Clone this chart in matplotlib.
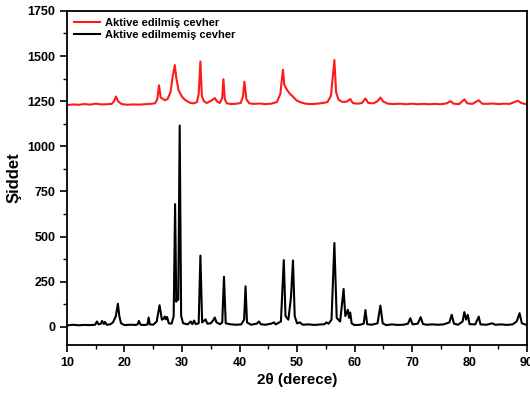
import matplotlib.pyplot as plt
from matplotlib.ticker import MultipleLocator

# ------------------------------------
# Data
# ------------------------------------
series_labels = ["Aktive edilmiş cevher", "Aktive edilmemiş cevher"]

# Activated ore (red, offset upward)
active_2theta = [
    10.0, 11.0, 12.0, 13.0, 14.0, 15.0, 16.0, 17.0, 17.8, 18.2, 18.5, 18.9,
    19.5, 20.5, 21.5, 22.5, 23.5, 24.5, 25.3, 25.7, 26.0, 26.3, 26.7, 27.0,
    27.5, 28.0, 28.4, 28.75, 29.0, 29.4, 30.0, 30.5, 31.0, 31.5, 32.0, 32.6,
    32.9, 33.2, 33.45, 33.8, 34.3, 34.8, 35.2, 35.7, 36.1, 36.6, 37.0, 37.2,
    37.45, 37.8, 38.5, 39.5, 40.2, 40.6, 40.85, 41.2, 41.7, 42.5, 43.5, 44.5,
    45.5, 46.5, 47.1, 47.55, 47.8, 48.3, 48.8, 49.3, 49.9, 50.5, 51.5, 52.5,
    53.5, 54.5, 55.3, 55.9, 56.5, 56.8, 57.2, 57.7, 58.2, 58.8, 59.25, 59.7,
    60.5, 61.3, 61.9, 62.4, 63.3, 64.0, 64.5, 65.0, 65.8, 66.8, 68.0, 69.0,
    70.0, 71.0, 72.0, 73.0, 74.0, 75.0, 76.0, 76.7, 77.2, 78.2, 79.1, 79.6,
    80.5, 81.6, 82.2, 83.0, 84.0, 85.0, 86.0, 87.0, 88.4, 89.0, 90.0,
]
active_int = [
    1228, 1232, 1230, 1234, 1231, 1236, 1232, 1233, 1235, 1250, 1276, 1248,
    1234, 1230, 1232, 1231, 1233, 1235, 1238, 1260, 1338, 1270, 1262, 1255,
    1262, 1300, 1390, 1450, 1380, 1310, 1275, 1258, 1248, 1240, 1238, 1245,
    1290, 1470, 1280, 1250, 1240, 1248, 1255, 1267, 1248, 1240, 1270, 1372,
    1260, 1238, 1234, 1236, 1240, 1275, 1358, 1260, 1238, 1235, 1237, 1234,
    1236, 1245, 1290, 1424, 1340, 1310, 1290, 1275, 1255, 1245, 1236, 1234,
    1236, 1240, 1245, 1280, 1478, 1300, 1260, 1248, 1245, 1250, 1262, 1240,
    1236, 1240, 1265, 1240, 1238, 1250, 1270, 1248, 1236, 1234, 1236, 1233,
    1236, 1233, 1235, 1233, 1235, 1233, 1238, 1250, 1236, 1234, 1260, 1238,
    1235, 1255, 1236, 1235, 1237, 1234, 1236, 1235, 1252, 1240, 1232,
]

# Non-activated ore (black)
raw_2theta = [
    10.0, 11.0, 12.0, 13.0, 14.0, 14.9, 15.2, 15.5, 15.9, 16.1, 16.4, 16.6,
    16.9, 17.5, 18.0, 18.5, 18.85, 19.1, 19.4, 20.0, 21.0, 22.0, 22.3, 22.5,
    22.8, 23.5, 24.0, 24.2, 24.4, 25.0, 25.6, 26.1, 26.5, 26.8, 27.0, 27.2,
    27.4, 27.7, 28.2, 28.55, 28.8, 29.0, 29.15, 29.35, 29.6, 29.85, 30.2, 31.0,
    31.5, 31.8, 32.1, 32.4, 32.9, 33.2, 33.5, 34.1, 34.4, 35.0, 35.4, 35.7,
    36.0, 36.6, 37.0, 37.3, 37.6, 38.5, 39.5, 40.3, 40.8, 41.05, 41.3, 42.0,
    43.0, 43.4, 43.7, 44.5, 45.5, 46.0, 46.3, 47.2, 47.7, 48.0, 48.5, 48.95,
    49.3, 49.6, 50.0, 50.5, 51.0, 52.0, 53.0, 54.0, 54.8, 55.1, 55.5, 56.0,
    56.5, 56.9, 57.5, 58.1, 58.4, 58.85, 59.05, 59.25, 59.5, 60.0, 61.0, 61.6,
    61.9, 62.2, 63.0, 64.0, 64.5, 64.9, 65.5, 66.5, 67.5, 68.5, 69.3, 69.7,
    70.1, 71.0, 71.5, 71.9, 72.5, 73.5, 74.5, 75.5, 76.5, 76.9, 77.3, 78.0,
    78.8, 79.1, 79.4, 79.7, 80.0, 81.0, 81.6, 81.9, 83.0, 83.9, 84.5, 85.5,
    86.5, 87.5, 88.2, 88.7, 89.1, 90.0,
]
raw_int = [
    8, 12, 9, 11, 10, 12, 30, 14, 18, 33, 16, 28,
    12, 14, 25, 60, 128, 60, 20, 10, 12, 11, 15, 33,
    12, 10, 14, 52, 14, 12, 30, 120, 40, 45, 58, 42,
    55, 20, 18, 60, 680, 140, 165, 150, 1115, 60, 20, 14,
    30, 15, 35, 15, 20, 395, 25, 42, 18, 20, 35, 52,
    25, 15, 25, 278, 20, 14, 12, 14, 40, 225, 25, 12,
    18, 30, 15, 12, 18, 25, 14, 30, 370, 60, 40, 165,
    368, 60, 20, 25, 12, 14, 11, 13, 15, 25, 18, 40,
    465, 50, 30, 210, 60, 95, 50, 80, 20, 10, 12, 18,
    93, 15, 12, 20, 118, 20, 10, 14, 11, 12, 18, 48,
    14, 18, 54, 16, 12, 14, 12, 14, 25, 67, 18, 12,
    30, 82, 40, 67, 15, 14, 57, 14, 12, 20, 12, 14,
    11, 14, 30, 76, 20, 10,
]

# ------------------------------------
# Plot
# ------------------------------------
plt.rcParams["font.family"] = ["Liberation Sans", "DejaVu Sans"]
plt.rcParams["font.weight"] = "bold"

fig = plt.figure(figsize=(5.30, 4.03), dpi=100)
ax = fig.add_axes([0.1264, 0.144, 0.868, 0.829])

ax.plot(active_2theta, active_int, color="#ff1a1a", linewidth=1.5,
        label=series_labels[0])
ax.plot(raw_2theta, raw_int, color="black", linewidth=1.5,
        label=series_labels[1])

ax.set_xlim(10, 90)
ax.set_ylim(-100, 1750)
ax.xaxis.set_major_locator(MultipleLocator(10))
ax.xaxis.set_minor_locator(MultipleLocator(5))
ax.yaxis.set_major_locator(MultipleLocator(250))
ax.yaxis.set_minor_locator(MultipleLocator(125))
ax.tick_params(which="major", direction="out", length=5, width=1.2,
               labelsize=9)
ax.tick_params(which="minor", direction="out", length=3, width=1.0)
for lab in ax.get_xticklabels() + ax.get_yticklabels():
    lab.set_fontweight("bold")
for spine in ax.spines.values():
    spine.set_linewidth(1.3)

ax.set_xlabel("2\u03b8 (derece)", fontsize=11, fontweight="bold", labelpad=3)
ax.set_ylabel("\u015eiddet", fontsize=12, fontweight="bold", labelpad=4)

leg = ax.legend(loc="upper left", frameon=False,
                handlelength=2.4, handletextpad=0.4, labelspacing=0.2,
                borderaxespad=0.2, prop={"weight": "bold", "size": 8})

fig.savefig("out.png", dpi=100)
plt.close(fig)
